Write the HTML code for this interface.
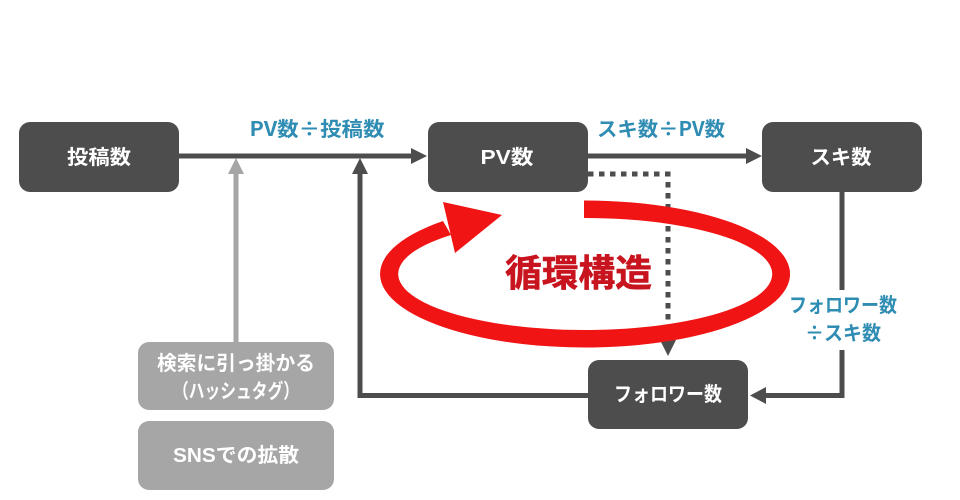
<!DOCTYPE html>
<html><head><meta charset="utf-8">
<style>
html,body{margin:0;padding:0;background:#fff}
svg{display:block}
text{font-family:"Liberation Sans","Noto Sans CJK JP",sans-serif;font-weight:700;text-anchor:middle}
.w{fill:#fff;font-size:20px}
.b{fill:#2f8cb3;font-size:20px;font-family:"Noto Sans CJK JP","Liberation Sans",sans-serif}
</style></head><body>
<svg width="960" height="500" viewBox="0 0 960 500" xmlns="http://www.w3.org/2000/svg">
<rect width="960" height="500" fill="#fff"/>
<g fill="none" stroke="#a6a6a6" stroke-width="5"><path d="M236 172V342"/></g>
<polygon points="236,158 228,174 244,174" fill="#a6a6a6"/>
<g fill="none" stroke="#4d4d4d" stroke-width="5">
<path d="M179 156H414"/>
<path d="M588 156H748"/>
<path d="M360 172V395.500H588"/>
<path d="M842 192V290M842 350V395.500H764"/>
<path d="M588 174H668V342" stroke-dasharray="5.500 5.500"/>
</g>
<g fill="#4d4d4d">
<polygon points="427,156 411,148 411,164"/>
<polygon points="762,156 746,148 746,164"/>
<polygon points="360,158 352,174 368,174"/>
<polygon points="750,395.500 766,387 766,404"/>
<polygon points="668,356 660,340 676,340"/>
<rect x="19" y="122" width="160" height="70" rx="11"/>
<rect x="428" y="122" width="160" height="70" rx="11"/>
<rect x="762" y="122" width="160" height="70" rx="11"/>
<rect x="588" y="360" width="160" height="69" rx="11"/>
</g>
<g fill="#a6a6a6">
<rect x="138" y="342" width="196" height="68" rx="11"/>
<rect x="138" y="421" width="196" height="69" rx="11"/>
</g>
<path d="M584 200.500A205 73.500 0 1 1 443 221L451 235A187 56 0 1 0 584 218Z" fill="#f01414"/>
<polygon points="502,215 443,202 455,253" fill="#f01414"/>
<text x="99" y="164" class="w" textLength="64" lengthAdjust="spacingAndGlyphs">投稿数</text>
<text x="507" y="164" class="w" textLength="53" lengthAdjust="spacingAndGlyphs">PV数</text>
<text x="841" y="164" class="w" textLength="61" lengthAdjust="spacingAndGlyphs">スキ数</text>
<text x="668" y="401" class="w" textLength="108" lengthAdjust="spacingAndGlyphs">フォロワー数</text>
<text x="236" y="370" class="w" textLength="158" lengthAdjust="spacingAndGlyphs">検索に引っ掛かる</text>
<text x="236" y="398" class="w" textLength="126" lengthAdjust="spacingAndGlyphs">（ハッシュタグ）</text>
<text x="236" y="462" class="w" textLength="126" lengthAdjust="spacingAndGlyphs">SNSでの拡散</text>
<text x="317" y="136" class="b" textLength="135" lengthAdjust="spacingAndGlyphs">PV数÷投稿数</text>
<text x="661" y="136" class="b" textLength="128" lengthAdjust="spacingAndGlyphs">スキ数÷PV数</text>
<text x="843" y="312" class="b" textLength="108" lengthAdjust="spacingAndGlyphs">フォロワー数</text>
<text x="843" y="340" class="b" textLength="76" lengthAdjust="spacingAndGlyphs">÷スキ数</text>
<text x="578.500" y="286" fill="#c8141e" stroke="#c8141e" stroke-width="0.600" font-size="37" textLength="147" lengthAdjust="spacingAndGlyphs">循環構造</text>
</svg>
</body></html>
